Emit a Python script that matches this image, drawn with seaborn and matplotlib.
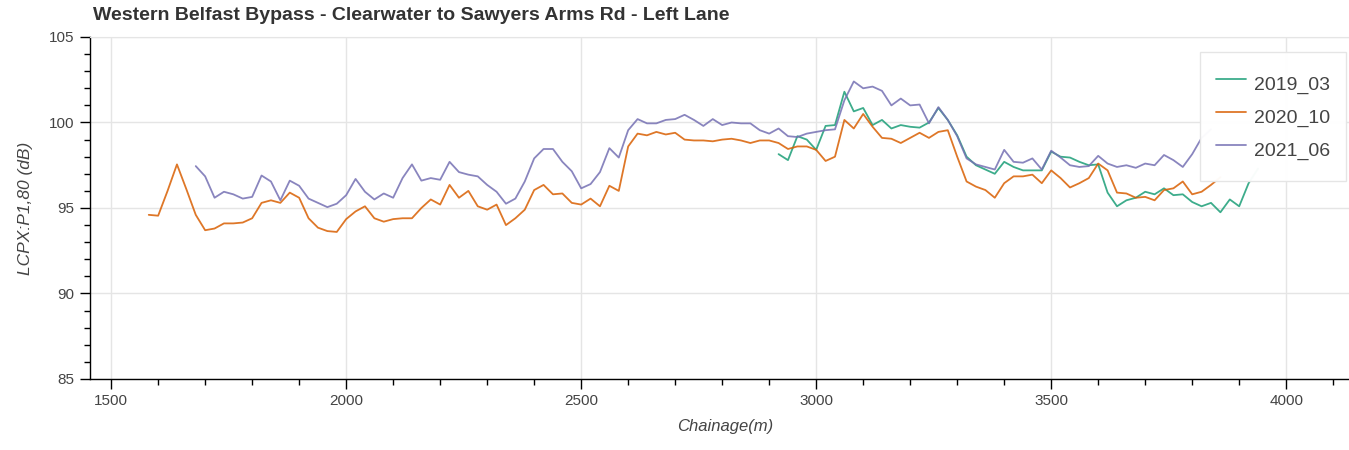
import numpy as np
import pandas as pd
import matplotlib
matplotlib.use('Agg')
import matplotlib.pyplot as plt
from matplotlib.ticker import MultipleLocator
import seaborn as sns

# survey runs, LCPX readings every 20 m of chainage
start_2019 = 2920
lcpx_2019 = [98.15, 97.8, 99.2, 99.0, 98.4, 99.8, 99.85, 101.8, 100.65, 100.85,
             99.85, 100.15, 99.65, 99.85, 99.75, 99.7, 100.0, 100.85, 100.15, 99.25,
             98.0, 97.5, 97.25, 97.0, 97.7, 97.4, 97.2, 97.2, 97.2, 98.3,
             98.0, 97.95, 97.7, 97.5, 97.55, 95.9, 95.1, 95.45, 95.6, 95.95,
             95.8, 96.15, 95.75, 95.8, 95.35, 95.1, 95.3, 94.75, 95.5, 95.1,
             96.45, 97.3]

start_2020 = 1580
lcpx_2020 = [94.6, 94.55, 96.0, 97.55, 96.1, 94.6, 93.7, 93.8, 94.1, 94.1,
             94.15, 94.4, 95.3, 95.45, 95.3, 95.9, 95.6, 94.4, 93.85, 93.65,
             93.6, 94.35, 94.8, 95.1, 94.4, 94.2, 94.35, 94.4, 94.4, 95.0,
             95.5, 95.2, 96.35, 95.6, 96.0, 95.1, 94.9, 95.2, 94.0, 94.4,
             94.9, 96.05, 96.35, 95.8, 95.85, 95.3, 95.2, 95.55, 95.1, 96.3,
             96.0, 98.6, 99.35, 99.25, 99.45, 99.3, 99.4, 99.0, 98.95, 98.95,
             98.9, 99.0, 99.05, 98.95, 98.8, 98.95, 98.95, 98.8, 98.45, 98.6,
             98.6, 98.4, 97.75, 98.0, 100.15, 99.65, 100.5, 99.75, 99.1, 99.05,
             98.8, 99.1, 99.4, 99.1, 99.45, 99.55, 98.0, 96.55, 96.25, 96.05,
             95.6, 96.45, 96.85, 96.85, 96.95, 96.45, 97.2, 96.75, 96.2, 96.45,
             96.75, 97.6, 97.2, 95.9, 95.85, 95.6, 95.65, 95.45, 96.05, 96.15,
             96.55, 95.8, 95.95, 96.35, 96.8]

start_2021 = 1680
lcpx_2021 = [97.45, 96.85, 95.6, 95.95, 95.8, 95.55, 95.65, 96.9, 96.55, 95.45,
             96.6, 96.3, 95.55, 95.3, 95.05, 95.25, 95.75, 96.7, 95.95, 95.5,
             95.85, 95.6, 96.75, 97.55, 96.6, 96.75, 96.65, 97.7, 97.1, 96.95,
             96.85, 96.35, 95.95, 95.25, 95.55, 96.55, 97.9, 98.45, 98.45, 97.7,
             97.15, 96.15, 96.4, 97.1, 98.5, 97.95, 99.55, 100.2, 99.95, 99.95,
             100.15, 100.2, 100.45, 100.15, 99.8, 100.2, 99.85, 100.0, 99.95, 99.95,
             99.55, 99.35, 99.65, 99.2, 99.15, 99.35, 99.45, 99.55, 99.6, 101.3,
             102.4, 102.0, 102.1, 101.85, 101.0, 101.4, 101.0, 101.05, 99.95, 100.9,
             100.15, 99.2, 97.9, 97.55, 97.4, 97.25, 98.4, 97.7, 97.65, 97.9,
             97.25, 98.35, 97.95, 97.5, 97.4, 97.45, 98.05, 97.6, 97.4, 97.5,
             97.35, 97.6, 97.5, 98.1, 97.8, 97.4, 98.15, 99.1, 99.6]

surveys = ['2019_03', '2020_10', '2021_06']
colors = ['#1b9e77', '#d95f02', '#7570b3']

frames = []
for name, start, vals in zip(surveys, [start_2019, start_2020, start_2021],
                             [lcpx_2019, lcpx_2020, lcpx_2021]):
    frames.append(pd.DataFrame({'chainage': start + 20 * np.arange(len(vals)),
                                'lcpx': vals, 'survey': name}))
df = pd.concat(frames, ignore_index=True)

sns.set_style('whitegrid', {'grid.color': '#e5e5e5', 'axes.edgecolor': '#e5e5e5'})
plt.rcParams['font.family'] = ['Liberation Sans', 'DejaVu Sans']

fig = plt.figure(figsize=(13.49, 4.5), dpi=100)
ax = fig.add_axes([90 / 1349, 71 / 450, 1270 / 1349, 342 / 450])

sns.lineplot(data=df, x='chainage', y='lcpx', hue='survey', hue_order=surveys,
             palette=colors, linewidth=1.3, alpha=0.85, estimator=None, ax=ax)

ax.set_xlim(1455, 4157)
ax.set_ylim(85, 105)
ax.xaxis.set_major_locator(MultipleLocator(500))
ax.xaxis.set_minor_locator(MultipleLocator(100))
ax.yaxis.set_major_locator(MultipleLocator(5))
ax.yaxis.set_minor_locator(MultipleLocator(1))
ax.grid(which='minor', visible=False)
ax.grid(which='major', color='#e5e5e5', linewidth=1)

for side in ['left', 'bottom']:
    ax.spines[side].set_color('black')
    ax.spines[side].set_linewidth(1)
for side in ['top', 'right']:
    ax.spines[side].set_color('#e5e5e5')

ax.tick_params(which='major', direction='out', length=7, width=1, color='black',
               labelsize=11, labelcolor='#444444', pad=4, left=True, bottom=True)
ax.tick_params(which='minor', direction='out', length=4, width=1, color='black',
               left=True, bottom=True)

ax.set_xlabel('Chainage(m)', fontsize=12, style='italic', color='#444444', labelpad=8)
ax.set_ylabel('LCPX:P1,80 (dB)', fontsize=12.5, style='italic', color='#444444', labelpad=12)

fig.text(93 / 1349, 1 - 15 / 450,
         'Western Belfast Bypass - Clearwater to Sawyers Arms Rd - Left Lane',
         fontsize=14, weight='bold', color='#333333', ha='left', va='center')

leg = ax.legend(loc='upper right', bbox_to_anchor=(1346 / 1349, 1 - 51.7 / 450),
                bbox_transform=fig.transFigure, borderaxespad=0, fontsize=14,
                frameon=True, fancybox=False, framealpha=0.97, edgecolor='#e5e5e5',
                handlelength=1.55, handleheight=2.1, handletextpad=0.4,
                labelspacing=0.1, borderpad=0.82, labelcolor='#444444')
for line in leg.get_lines():
    line.set_linewidth(1.3)

fig.savefig('out.png', dpi=100)
